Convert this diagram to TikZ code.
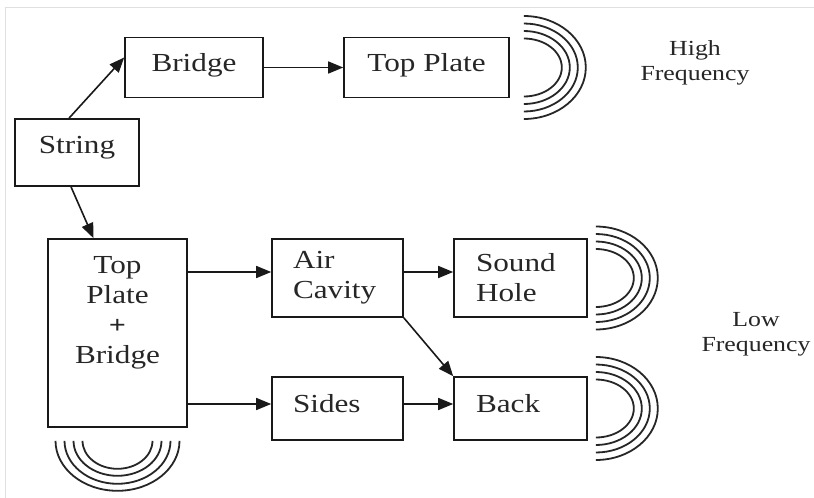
\documentclass[tikz,border=0pt]{standalone}
\usepackage{fontspec}
\setmainfont{Liberation Serif}[FakeStretch=1.2]
\usetikzlibrary{arrows.meta, positioning}
\tikzset{every path/.style={line join=miter}}

\begin{document}
\begin{tikzpicture}[
    x=1pt, y=1pt,
    >={Triangle[length=15pt, width=12pt]},
    box/.style={
        draw=black!90,
        line width=1.6pt,
        align=center,
        inner sep=0pt,
        text=black!85,
        font=\fontsize{26}{30}\selectfont
    },
    onebox/.style={box, text height=18pt, text depth=10pt},
    leftbox/.style={box, align=left, text width=89pt},
    flow/.style={->, line width=1.6pt, draw=black!90},
    wave/.style={line width=1.8pt, draw=black!85},
    freq/.style={align=center, text=black!85, font=\fontsize{21.5}{25}\selectfont},
    frame/.style={draw=black!12, line width=0.8pt}
]

\useasboundingbox (0,0) rectangle (814,-498);
\draw[frame] (5.5,-498) -- (5.5,-7) -- (814,-7);

\node[onebox, minimum width=138, minimum height=60] (bridge) at (194,-67.5) {Bridge};
\node[onebox, minimum width=165, minimum height=60] (topplate) at (426.5,-67.5) {Top Plate};
\node[onebox, text depth=17pt, minimum width=124, minimum height=67] (string) at (77,-152.5) {String};

\node[box, minimum width=139, minimum height=188] (tpb) at (117.5,-333) {};
\node[box, draw=none, anchor=north] (tpbtext) at ([yshift=-17pt]tpb.north)
{Top\\Plate\\{\fontsize{25}{25}\selectfont\bfseries +}\\Bridge};

\node[leftbox, minimum width=131, minimum height=78] (air) at (337.5,-278) {Air\\Cavity};
\node[leftbox, minimum width=133, minimum height=78] (sound) at (520.5,-278) {Sound\\Hole};
\node[leftbox, text height=18pt, text depth=10pt, minimum width=131, minimum height=63] (sides) at (337.5,-408.5) {Sides};
\node[leftbox, text height=18pt, text depth=10pt, minimum width=133, minimum height=63] (back) at (520.5,-408.5) {Back};

\node[freq] (high) at (695,-62.5) {High\\Frequency};
\node[freq] (low) at (756,-334.5) {Low\\Frequency};

\coordinate (rowTop) at (0,-272);
\coordinate (rowBot) at (0,-404);

\draw[flow] ([xshift=-8pt]string.north) -- ([yshift=10pt]bridge.west);
\draw[flow] ([xshift=-6pt]string.south) -- ([xshift=-24pt]tpb.north);
\draw[flow] (bridge.east) -- (topplate.west);
\draw[flow] (tpb.east |- rowTop) -- (air.west |- rowTop);
\draw[flow] (air.east |- rowTop) -- (sound.west |- rowTop);
\draw[flow] (tpb.east |- rowBot) -- (sides.west |- rowBot);
\draw[flow] (sides.east |- rowBot) -- (back.west |- rowBot);
\draw[flow] (air.south east) -- (back.north west);

\foreach \n/\s in {topplate/14, sound/8, back/8}
  \foreach \rx/\ry in {38/29, 46/36.5, 54/44, 62/51.5}
    \draw[wave] ([xshift=\s pt, yshift=\ry pt]\n.east)
      arc[start angle=90, end angle=-90, x radius=\rx, y radius=\ry];

\foreach \rx/\ry in {35/28, 44/35, 53/43, 62/50}
  \draw[wave] ([xshift=-\rx pt, yshift=-13pt]tpb.south)
    arc[start angle=180, end angle=360, x radius=\rx, y radius=\ry];

\end{tikzpicture}
\end{document}
